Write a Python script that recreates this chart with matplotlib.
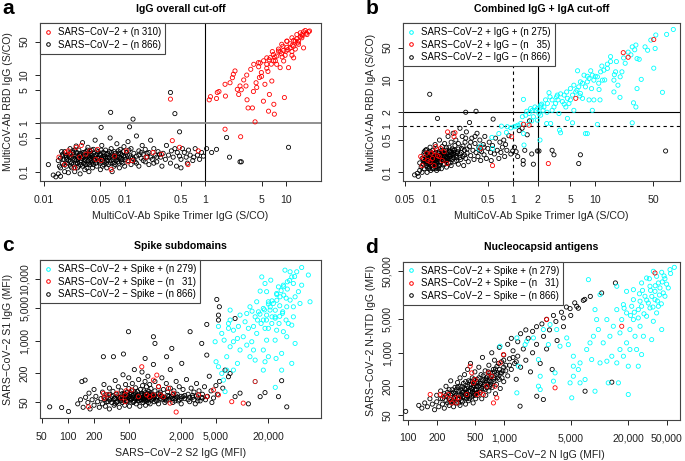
import numpy as np
import matplotlib
matplotlib.use("Agg")
import matplotlib.pyplot as plt
from matplotlib.lines import Line2D

plt.rcParams['font.family'] = ['Liberation Sans', 'DejaVu Sans']

RED = '#ff0000'
CYAN = '#00ffff'

# ---- panel a : IgG overall cut-off  (x = spike trimer IgG, y = RBD IgG, S/CO)
a_pos = [(1.12,3.09),(1.16,3.6),(1.38,3.3),(1.41,4.4),(1.48,4.6),(1.78,3.7),(1.76,6.5),(2.03,7.0),
         (2.17,8.9),(2.23,10.5),(2.34,12.3),(2.5,5.1),(2.6,4.0),(2.7,6.0),(3.0,8.0),(3.27,10.1),
         (3.3,3.1),(3.4,2.1),(3.67,13.3),(3.85,2.1),(3.96,4.6),(4.15,1.08),(4.27,7.0),(4.35,5.6),
         (4.57,18.3),(4.7,9.0),(4.97,11.4),(5.27,2.9),(5.5,6.5),(5.8,16.9),(6.1,1.8),(6.25,4.0),
         (6.4,23.2),(6.7,7.6),(7.0,27),(7.1,2.5),(7.2,1.56),(7.7,16.9),(8.1,31.8),(8.5,14.4),
         (8.9,44),(9.4,19.8),(9.6,3.45),(10.1,31.8),(10.3,51),(10.8,14.4),(11.3,37),(11.9,60),
         (12.5,23),(13.1,51),(13.7,70),(14.4,44),(15.1,76),(15.8,60),(16.6,37),(17.4,85),
         (18.3,70),(19.1,80),(19.7,83),(4.8,18),(5.3,20),(5.8,23),(7.0,20),(7.7,25),(8.5,31),
         (9.4,33),(10.3,38),(11.3,45),(12.5,53),(13.7,57),(15.1,63),(4.0,16.9),(4.6,15),(5.8,14),
         (6.6,17),(7.4,20),(9.0,24),(9.8,26),(11.9,31),(13.1,35),(14.4,51),(15.8,70),(16.6,80),
         (11.9,26),(8.1,35),(6.8,31),(10.3,51),(12.5,40),(6.0,12),(5.0,9.5),(3.2,6.0),(2.8,5.0),
         (6.2,21),(7.3,24),(8.8,28),(10.6,34),(12.0,42),(14.0,47),(16.0,66),(18.0,75),(9.2,40),
         (0.0188,0.25),(0.0216,0.23),(0.0276,0.2),(0.024,0.12),(0.037,0.27),(0.046,0.29),
         (0.051,0.17),(0.068,0.11),(0.075,0.21),(0.105,0.27),(0.11,0.16),(0.125,0.17),(0.185,0.2),
         (0.225,0.25),(0.286,0.23),(0.39,0.44),(0.48,0.32),(0.61,0.14),(0.82,0.27),(0.37,3.2),
         (1.76,0.76),(2.75,0.53),(0.029,0.35),(0.033,0.23),(0.0153,0.2),(0.044,0.18),(0.018,0.14),
         (0.02,0.27),(0.025,0.32)]
a_neg = [(0.0113,0.14),(0.013,0.085),(0.014,0.078),(0.015,0.09),(0.016,0.08),(0.015,0.17),(0.016,0.12),
         (0.017,0.21),(0.017,0.15),(0.018,0.1),(0.018,0.26),(0.019,0.18),(0.019,0.13),(0.02,0.22),
         (0.02,0.095),(0.021,0.16),(0.021,0.3),(0.022,0.12),(0.022,0.2),(0.023,0.25),(0.023,0.14),
         (0.024,0.18),(0.024,0.1),(0.025,0.34),(0.025,0.22),(0.026,0.15),(0.026,0.12),(0.027,0.28),
         (0.027,0.19),(0.028,0.09),(0.028,0.16),(0.029,0.23),(0.03,0.13),(0.03,0.4),(0.031,0.2),
         (0.032,0.17),(0.032,0.11),(0.033,0.26),(0.034,0.14),(0.035,0.21),(0.035,0.32),(0.036,0.1),
         (0.037,0.18),(0.038,0.24),(0.039,0.15),(0.04,0.12),(0.04,0.2),(0.041,0.29),(0.042,0.17),
         (0.043,0.45),(0.044,0.22),(0.045,0.13),(0.046,0.19),(0.047,0.26),(0.048,0.16),(0.05,0.11),
         (0.05,0.23),(0.052,0.35),(0.053,0.18),(0.055,0.14),(0.056,0.21),(0.058,0.28),(0.06,0.17),
         (0.06,0.12),(0.062,0.24),(0.064,0.19),(0.066,0.5),(0.067,0.15),(0.068,0.3),(0.07,0.1),
         (0.07,0.22),(0.072,0.18),(0.074,0.26),(0.076,0.14),(0.078,0.2),(0.08,0.38),(0.082,0.16),
         (0.084,0.24),(0.086,0.12),(0.088,0.29),(0.09,0.19),(0.092,0.22),(0.095,0.15),(0.098,0.33),
         (0.1,0.2),(0.1,0.13),(0.105,0.25),(0.11,0.17),(0.11,0.42),(0.115,0.22),(0.12,0.14),
         (0.12,0.3),(0.125,0.19),(0.13,0.24),(0.135,0.16),(0.14,0.55),(0.14,0.21),(0.15,0.27),
         (0.15,0.13),(0.16,0.19),(0.165,0.35),(0.17,0.23),(0.18,0.16),(0.18,0.29),(0.19,0.2),
         (0.2,0.25),(0.2,0.14),(0.21,0.45),(0.22,0.18),(0.23,0.3),(0.24,0.22),(0.25,0.16),
         (0.26,0.26),(0.28,0.2),(0.29,0.13),(0.3,0.24),(0.32,0.18),(0.33,0.35),(0.35,0.22),
         (0.37,0.15),(0.38,0.27),(0.4,0.2),(0.42,0.3),(0.44,0.13),(0.45,0.25),(0.48,0.21),
         (0.5,0.18),(0.5,0.12),(0.52,0.3),(0.55,0.25),(0.58,0.2),(0.6,0.15),(0.62,0.28),
         (0.65,0.22),(0.7,0.17),(0.72,0.2),(0.75,0.3),(0.8,0.22),(0.85,0.18),(0.9,0.25),(0.95,0.21),
         (0.016,0.19),(0.017,0.23),(0.018,0.14),(0.019,0.2),(0.02,0.17),(0.021,0.24),(0.022,0.15),
         (0.023,0.19),(0.024,0.28),(0.025,0.17),(0.026,0.2),(0.027,0.13),(0.028,0.24),(0.029,0.17),
         (0.03,0.21),(0.031,0.15),(0.032,0.25),(0.033,0.19),(0.034,0.12),(0.035,0.17),(0.036,0.23),
         (0.037,0.14),(0.038,0.19),(0.039,0.28),(0.04,0.16),(0.042,0.21),(0.044,0.15),(0.046,0.24),
         (0.048,0.19),(0.05,0.15),(0.052,0.2),(0.054,0.25),(0.056,0.16),(0.058,0.19),(0.06,0.23),
         (0.063,0.14),(0.066,0.2),(0.069,0.25),(0.072,0.15),(0.075,0.21),(0.078,0.17),(0.081,0.2),
         (0.085,0.15),(0.089,0.24),(0.093,0.18),(0.097,0.21),
         (0.0155,0.13),(0.0165,0.26),(0.0175,0.18),(0.0185,0.22),(0.0195,0.15),(0.0205,0.2),
         (0.0215,0.13),(0.0225,0.27),(0.0235,0.21),(0.0245,0.15),(0.0255,0.25),(0.0265,0.18),
         (0.0275,0.22),(0.0285,0.14),(0.0295,0.19),(0.0305,0.25),(0.0315,0.18),(0.0325,0.14),
         (0.0335,0.22),(0.0345,0.28),(0.0355,0.15),(0.0365,0.2),(0.0375,0.26),(0.0385,0.17),
         (0.0395,0.22),(0.041,0.14),(0.043,0.19),(0.045,0.27),(0.047,0.17),(0.049,0.22),
         (0.051,0.28),(0.053,0.13),(0.055,0.19),(0.057,0.24),(0.059,0.15),(0.061,0.2),(0.065,0.26),
         (0.068,0.17),(0.071,0.2),(0.074,0.13),(0.077,0.24),(0.08,0.18),(0.083,0.27),(0.087,0.2),
         (0.091,0.16),(0.096,0.26),(0.102,0.18),(0.108,0.22),(0.113,0.28),(0.118,0.2),(0.13,0.18),
         (0.14,0.15),(0.15,0.22),(0.16,0.25),(0.17,0.17),(0.19,0.24),(0.21,0.2),(0.23,0.15),
         (0.25,0.2),(0.27,0.23),
         (0.37,4.4),(0.067,1.7),(0.127,1.23),(0.115,0.85),(0.051,0.83),(0.42,1.6),(0.48,0.67),
         (10.8,0.32),(2.7,0.16),(2.8,0.16),(1.84,0.51),(2.0,0.2),(1.38,0.29),(1.04,0.3),(1.2,0.25)]

# ---- panel b : combined IgG + IgA cut-off (x = spike trimer IgA, y = RBD IgA)
b_pos = [(88,124),(73,97),(54,94),(47,73),(43,44),(53,48),(40,52),(31,57),(28,52),(27,35),(32,29),
         (34,28),(51,18),(65,5.4),(36,10.3),(32,6.5),(29,3.2),(31,2.6),(28,1.18),(23,23),(21,15),
         (20,11.7),(17.6,15),(16.8,9.9),(18.8,7.7),(19.9,4.2),(16.8,5.5),(15.3,32),(15.3,25),
         (14,17.8),(12.7,16.3),(11.6,15),(12.2,9.9),(10.6,11.7),(9.6,9.9),(9.2,12.7),(8.8,15.8),
         (8.4,10.8),(8.0,9.1),(7.6,7.1),(7.3,12.7),(6.6,9.1),(6.3,7.1),(6.1,15.8),(5.8,5.5),
         (5.5,7.7),(5.3,4.7),(5.0,3.7),(4.8,3.1),(4.6,4.0),(4.4,2.6),(4.2,4.7),(4.0,3.4),(9.6,3.7),
         (9.2,2.2),(8.4,3.7),(8.0,0.69),(7.6,0.69),(10.6,1.09),(11.1,6.2),(11.4,3.7),(6.6,5.1),
         (7.0,4.0),(5.5,2.2),(4.6,1.47),(5.3,1.18),(3.8,0.72),
         (0.39,0.32),(0.41,0.37),(0.56,0.57),(0.57,0.33),(0.68,0.69),(0.73,1.0),(0.84,0.73),
         (0.86,0.97),(0.95,0.92),(1.04,0.97),(1.1,1.0),(1.16,1.05),(1.25,1.14),(1.31,1.6),
         (1.35,3.8),(1.35,0.69),(1.37,0.39),(1.44,1.73),(1.48,2.1),(1.58,1.88),(1.65,2.4),
         (1.73,2.2),(1.78,1.6),(1.86,2.6),(1.9,2.2),(1.99,2.4),(2.08,1.88),(2.14,0.5),(2.18,2.85),
         (2.24,3.0),(2.33,2.2),(2.39,2.6),(2.5,3.7),(2.58,1.14),(2.63,3.1),(2.75,5.3),(2.83,4.3),
         (2.88,1.14),(3.0,3.7),(3.16,2.6),(3.3,3.1),(3.4,4.3),(3.47,4.7),(3.63,1.88),(3.7,0.82),
         (3.54,3.7),(3.0,2.2),(2.18,1.73),(1.99,1.35),(6.0,6.0),(7.0,8.5),(8.0,12),(10,12),(12,20),
         (14,22),(18,25),(22,30),(25,40),(30,45),(4.5,5.5),(5.0,6.5),(3.8,5.0),(4.2,3.0),(6.5,4.5),
         (2.6,2.0),(2.2,2.6),(1.7,1.3),(1.5,1.1),(9.0,6.5),(11,8.5),(13,10),(17,13)]
b_mid = [(0.077,0.22),(0.08,0.14),(0.091,0.26),(0.094,0.18),(0.1,0.17),(0.107,0.2),(0.112,0.28),
         (0.117,0.36),(0.123,0.23),(0.129,0.22),(0.134,0.33),(0.148,0.28),(0.16,0.155),(0.163,0.75),
         (0.195,0.59),(0.2,0.72),(0.41,0.33),(0.57,0.14),(0.97,0.59),(1.35,1.1),(1.58,1.05),
         (2.7,0.155),(5.8,4.0),(21.8,39),(25,31),(51,75),(0.112,0.14),(0.084,0.2),(0.104,0.26),
         (0.14,0.18)]
b_neg = [(0.065,0.088),(0.07,0.095),(0.072,0.082),(0.075,0.11),(0.075,0.16),(0.078,0.13),(0.08,0.2),
         (0.08,0.1),(0.082,0.15),(0.084,0.25),(0.085,0.12),(0.087,0.18),(0.088,0.3),(0.09,0.14),
         (0.09,0.22),(0.092,0.1),(0.094,0.17),(0.095,0.27),(0.097,0.13),(0.098,0.2),(0.1,0.16),
         (0.1,0.35),(0.102,0.11),(0.104,0.24),(0.105,0.18),(0.107,0.14),(0.108,0.3),(0.11,0.21),
         (0.11,0.12),(0.112,0.17),(0.114,0.26),(0.115,0.4),(0.117,0.15),(0.118,0.2),(0.12,0.11),
         (0.12,0.32),(0.122,0.23),(0.124,0.17),(0.126,0.14),(0.128,0.28),(0.13,0.2),(0.13,0.5),
         (0.133,0.16),(0.135,0.24),(0.137,0.12),(0.14,0.36),(0.14,0.19),(0.143,0.27),(0.145,0.15),
         (0.148,0.22),(0.15,0.42),(0.152,0.18),(0.155,0.3),(0.158,0.13),(0.16,0.25),(0.163,0.2),
         (0.165,0.6),(0.168,0.16),(0.17,0.35),(0.173,0.22),(0.176,0.28),(0.18,0.14),(0.18,0.45),
         (0.185,0.19),(0.19,0.3),(0.19,0.7),(0.195,0.24),(0.2,0.17),(0.2,0.38),(0.205,0.5),
         (0.21,0.21),(0.215,0.28),(0.22,0.15),(0.22,0.42),(0.23,0.25),(0.23,0.9),(0.235,0.19),
         (0.24,0.33),(0.245,0.6),(0.25,0.22),(0.255,0.14),(0.26,0.3),(0.265,0.45),(0.27,0.2),
         (0.275,0.75),(0.28,0.26),(0.29,0.17),(0.3,0.36),(0.3,1.2),(0.31,0.23),(0.32,0.55),
         (0.33,0.3),(0.34,0.19),(0.35,0.42),(0.36,0.27),(0.37,0.7),(0.38,0.22),(0.39,0.35),
         (0.4,0.5),(0.41,0.18),(0.42,0.28),(0.44,0.4),(0.45,0.24),(0.46,0.6),(0.48,0.2),(0.5,0.33),
         (0.52,0.45),(0.54,0.27),(0.55,0.18),(0.57,0.38),(0.6,0.25),(0.62,0.55),(0.65,0.3),
         (0.68,0.2),(0.7,0.45),(0.72,0.27),(0.75,0.35),(0.78,0.5),(0.8,0.22),(0.82,0.4),(0.85,0.3),
         (0.9,0.62),(0.95,0.25),(1.05,0.35),(1.1,0.28),(1.15,0.22),(1.2,0.8),(1.3,0.9),(1.4,0.3),
         (1.5,0.65),(1.6,1.3),(1.7,0.25),
         (0.085,0.17),(0.09,0.19),(0.095,0.15),(0.1,0.22),(0.105,0.15),(0.11,0.19),(0.115,0.23),
         (0.12,0.16),(0.125,0.21),(0.13,0.14),(0.135,0.2),(0.14,0.25),(0.145,0.18),(0.15,0.15),
         (0.155,0.22),(0.16,0.18),(0.165,0.27),(0.17,0.2),(0.175,0.16),(0.18,0.24),(0.185,0.32),
         (0.19,0.21),(0.2,0.27),(0.21,0.18),(0.22,0.32),(0.23,0.21),(0.24,0.27),(0.25,0.37),
         (0.26,0.24),(0.28,0.32),(0.095,0.24),(0.1,0.28),(0.108,0.19),(0.118,0.27),(0.128,0.23),
         (0.138,0.3),(0.148,0.26),(0.158,0.34),(0.092,0.13),(0.102,0.14),(0.112,0.15),(0.122,0.13),
         (0.083,0.19),(0.086,0.23),(0.089,0.16),(0.093,0.21),(0.096,0.18),(0.099,0.25),(0.103,0.2),
         (0.106,0.23),(0.109,0.16),(0.113,0.2),(0.116,0.18),(0.119,0.24),(0.123,0.19),(0.127,0.26),
         (0.131,0.17),(0.134,0.22),(0.139,0.28),(0.142,0.21),(0.146,0.24),(0.151,0.19),(0.156,0.26),
         (0.161,0.21),(0.167,0.23),(0.172,0.29),(0.178,0.2),(0.183,0.27),(0.19,0.25),(0.197,0.3),
         (0.205,0.23),(0.213,0.26),(0.085,0.28),(0.09,0.31),(0.097,0.12),(0.107,0.12),(0.117,0.12),
         (0.127,0.12),(0.31,0.45),(0.27,0.55),(0.35,0.6),(0.4,0.3),(0.45,0.35),
         (0.099,4.9),(0.27,2.0),(0.36,2.1),(0.123,1.47),(0.58,1.42),(1.0,0.29),(1.34,0.18),
         (1.34,0.15),(1.78,0.15),(1.99,0.29),(2.08,0.29),(3.0,0.3),(3.16,0.24),(6.3,0.155),
         (6.6,0.24),(71,0.29)]

# ---- panel c : spike subdomains (x = S2 IgG, y = S1 IgG, MFI)
c_pos = [(48200,35900),(42300,29100),(35500,29100),(37100,22600),(33000,17800),(38700,16400),
         (48200,15100),(57500,24800),(60100,6690),(44200,10970),(40500,8530),(35500,7260),
         (32500,5230),(38700,3200),(37100,2130),(40500,869),(37100,327),(33900,2310),(29700,1545),
         (29200,4090),(27200,8530),(26100,13900),(29700,15100),(24900,10040),(22800,6160),
         (20900,4450),(23900,3200),(21900,2310),(24900,1660),(23900,1020),(28400,533),(24500,416),
         (28400,235),(18300,16400),(19100,10970),(20000,6690),(17500,4820),(19100,3480),
         (17500,2730),(18300,1820),(19100,1020),(17500,629),(18300,354),(17500,235),(16100,11270),
         (14700,6690),(15400,4090),(14100,3200),(13500,2000),(14700,1420),(12900,944),(13500,629),
         (14100,384),(14100,134),(24000,101),(12300,5230),(11300,3770),(10800,2510),(11800,1820),
         (10300,1206),(11300,801),(9460,3480),(9060,2000),(8830,1109),(9460,629),(7940,1660),
         (7940,944),(7280,2730),(7280,738),(6970,1820),(6660,453),(6210,1020),(5840,1420),
         (7280,4450),(16800,22600),(21300,19300),(31000,31500),(6970,2310),(5350,2000),(5020,354),
         (5350,277),(5840,200),(6100,144),(4900,944),(6660,235),(6370,82),(7940,235),(8830,327),
         (12300,453),(20000,453),(32500,1206),(46100,6160),(38700,5230),(31900,2730),(22000,3200),
         (24000,4420),(21000,5200),(26500,2310),(19000,2730),(20000,1820),(16500,2310),
         (16000,3650),(25000,7200),(30000,9270),(33000,12480),(27000,3280),(15000,2730),
         (13000,4220),(22000,7000),(25000,9500),(28000,11500),(30000,14000),(20000,6000),
         (18000,4500),(27000,5500),(32000,8000),(35000,19000),(40000,23000),(24000,3000),
         (29000,3800)]
c_mid = [(173,38.8),(256,75.6),(261,59.2),(293,69.7),(365,75.6),(409,60.3),(455,69.7),(467,85.2),
         (455,50),(646,63.8),(706,277),(805,69.7),(864,63.8),(960,69.7),(1050,184),(1100,105),
         (1150,69.7),(1250,63.8),(1430,96),(1490,46.6),(1630,75.6),(1750,30.1),(3150,69.7),
         (3930,63.8),(4690,88.8),(5350,69.7),(7600,50),(10300,46.6),(14100,134),(542,88.8),
         (960,144)]
c_neg = [(130,45),(140,55),(150,38),(160,62),(170,48),(175,76),(180,35),(190,55),(200,42),(200,91),
         (210,65),(220,50),(230,38),(240,58),(250,80),(250,45),(260,116),(265,55),(270,40),(280,70),
         (290,50),(300,97),(300,35),(310,60),(320,48),(330,83),(340,42),(350,141),(350,58),(360,72),
         (370,50),(380,104),(390,38),(400,62),(410,85),(420,48),(430,187),(430,55),(440,72),(450,42),
         (460,116),(470,60),(480,80),(490,50),(500,95),(500,161),(510,40),(520,65),(530,55),(540,85),
         (550,122),(560,48),(570,72),(580,241),(590,58),(600,99),(610,45),(620,65),(630,83),(640,52),
         (650,148),(660,60),(670,40),(680,91),(690,72),(700,55),(710,214),(720,110),(730,48),
         (740,66),(750,85),(760,58),(770,135),(780,42),(790,72),(800,104),(810,55),(820,65),
         (830,174),(840,48),(850,83),(860,60),(870,116),(880,45),(890,76),(900,95),(920,55),
         (940,70),(960,310),(980,50),(1000,85),(1000,135),(1050,60),(1100,45),(1100,104),(1150,72),
         (1200,55),(1200,161),(1250,91),(1300,62),(1300,48),(1350,122),(1400,80),(1450,55),
         (1500,97),(1500,241),(1550,65),(1600,48),(1650,85),(1700,58),(1750,135),(1800,72),
         (1850,52),(1900,104),(2000,65),(2000,45),(2100,91),(2200,58),(2300,148),(2400,72),
         (2500,50),(2600,97),(2700,62),(2800,80),(2900,45),(3000,122),(3100,60),(3200,85),
         (3300,52),(3500,72),(3700,104),(3800,55),(4000,65),(4200,174),(4400,85),(4500,48),
         (4700,60),(5000,110),(5200,72),(5500,135),(6000,97),
         (300,55),(320,65),(340,58),(360,48),(380,62),(400,52),(420,74),(440,58),(460,66),(480,52),
         (500,62),(520,78),(540,58),(560,68),(580,52),(600,74),(620,58),(650,62),(680,55),(700,68),
         (720,60),(750,52),(780,78),(800,62),(830,55),(860,70),(900,62),(950,58),(1000,66),
         (1050,52),(1100,74),(1150,58),(1200,65),(1300,56),(1400,68),(1500,60),(1600,70),
         (1700,52),(1800,62),(2000,58),(2200,68),(2500,62),(2800,55),(3000,66),(3500,60),
         (260,62),(280,50),(300,72),(330,55),(350,45),(370,66),(390,58),(410,52),(430,64),(450,75),
         (470,52),(490,68),(510,58),(530,72),(550,62),(570,50),(590,80),(610,62),(640,70),(660,52),
         (690,62),(710,75),(740,56),(770,64),(790,52),(820,76),(850,58),(880,66),(920,70),(970,62),
         (1020,54),(1080,64),(1150,80),(1250,60),(1350,52),(1450,65),(1600,58),(1750,66),
         (1900,55),(2100,64),(2400,55),(2700,68),(3100,52),(3400,62),
         (62,38.8),(85,37.5),(102,31),(497,1545),(960,1206),(1000,869),(1560,681),(2530,1545),
         (3440,869),(3930,2205),(5120,7500),(5350,3480),(5350,2730),(5480,5230),(8300,2950),
         (256,453),(334,453),(435,517),(771,416),(1360,453),(2030,327),(3930,491),(145,134),
         (158,144),(28400,140),(32500,38.8),(18300,78),(26100,64),(16100,64),(11800,45),(9460,76),
         (8300,64),(6970,170),(6370,235),(7280,200)]

# ---- panel d : nucleocapsid antigens (x = N IgG, y = N-NTD IgG, MFI)
d_pos = [(60100,60500),(54200,54200),(44400,47700),(36300,50000),(30900,36300),(27400,28600),
         (22500,20700),(19100,19100),(15100,24400),(42600,22500),(48000,15100),(37800,12800),
         (33500,8610),(39300,6780),(44400,3050),(30900,5780),(27400,9330),(25300,5330),(22500,4920),
         (19100,6780),(17700,10100),(20700,3050),(23400,2210),(28600,2210),(34900,1880),
         (24300,1170),(19100,1610),(16300,2600),(13900,3570),(11900,4920),(15100,7940),(17000,4920),
         (12800,2210),(10900,1610),(9700,3050),(9310,4920),(8610,2210),(7940,1610),(7330,1170),
         (8260,722),(10100,615),(11900,667),(13400,847),(15100,615),(17700,847),(19900,525),
         (25300,525),(16300,1170),(20700,1170),(27400,918),(19900,135),(15700,236),(12300,236),
         (8950,158),(6250,236),(7050,277),(6250,615),(6000,447),(5320,324),(5320,847),(5320,525),
         (4920,236),(5120,115),(4540,2040),(4720,1480),(3860,1370),(3570,3050),(3040,3870),
         (2920,1480),(2590,3050),(2300,722),(2400,324),(2300,201),(2400,171),(3300,256),(3430,381),
         (2040,2040),(1670,1480),(1740,1740),(1370,2040),(1420,525),(1370,146),(916,1370),
         (7640,33500),(10100,16300),(8950,7940),(39300,39300),(41000,28600),(33500,24400),
         (37800,19100),(46100,17700),(52000,22500),(29700,15100),(26400,11900),(32200,10900),
         (41000,9330),(36300,4540),(26400,3570),(25300,7940),(21600,9330),(22500,12800),
         (35000,15000),(38000,25000),(45000,30000),(48000,35000),(42000,16000),(40000,12000),
         (34000,20000),(28000,20000),(31000,12500),(44000,10500),(50000,27000),(36000,9000),
         (29000,6500),(23000,7000),(18000,8500),(21000,6000),(47000,40000),(55000,45000),
         (33000,35000),(26000,17000)]
d_mid = [(171,135),(217,135),(235,124),(266,135),(276,106),(287,90),(311,115),(324,90),(337,115),
         (412,135),(446,525),(464,381),(483,236),(503,277),(524,135),(567,146),(614,135),
         (665,201),(693,381),(750,324),(781,90),(813,201),(846,115),(916,615),(993,918),
         (2800,4920),(3430,186),(17000,3570),(37800,46100)]
d_neg = [(95,60),(130,80),(140,70),(150,90),(160,75),(170,110),(180,85),(190,65),(200,130),(200,95),
         (210,75),(220,160),(220,110),(230,85),(240,140),(240,70),(250,200),(250,100),(260,120),
         (270,80),(270,170),(280,95),(280,260),(290,140),(300,110),(300,75),(310,190),(320,130),
         (320,90),(330,240),(340,105),(340,160),(350,80),(350,300),(360,130),(370,200),(370,95),
         (380,150),(390,115),(390,350),(400,250),(400,85),(410,180),(420,130),(420,450),(430,100),
         (440,220),(450,160),(450,600),(460,120),(470,300),(480,190),(480,90),(490,140),(500,400),
         (500,230),(510,110),(520,170),(530,280),(540,130),(550,500),(560,210),(570,150),(580,350),
         (590,110),(600,260),(600,800),(620,180),(640,420),(650,130),(660,300),(680,220),(700,550),
         (700,160),(720,380),(740,250),(750,1000),(760,190),(780,450),(800,300),(800,700),(820,140),
         (840,220),(850,520),(870,380),(900,280),(900,1300),(920,180),(950,650),(980,420),(1000,250),
         (1000,900),(1050,550),(1100,1500),(1100,330),(1150,750),(1200,450),(1200,2000),(1250,1100),
         (1300,600),(1350,280),(1400,1700),(1400,850),(1500,2500),(1500,500),(1600,1200),
         (1700,3000),(1700,700),(1800,2000),(1900,400),(2000,2800),(2000,1000),(2200,3500),
         (2200,1500),(2400,600),(2500,4000),(2600,2200),(2800,5000),(2800,1200),(3000,3000),
         (3200,450),(3300,6000),(3500,4500),(3600,1800),(4000,7000),(4200,3500),(4500,9000),
         (5000,6000),(5500,11000),(6000,8500),(7000,13000),(8000,15000),(10500,17700),
         (14600,28600),(6760,12400),(5770,9330),(4920,8340),(4190,5330),
         (250,130),(260,90),(280,130),(290,100),(300,150),(310,120),(320,170),(330,110),(340,130),
         (350,200),(360,100),(370,150),(380,120),(390,180),(400,140),(410,110),(420,200),(430,160),
         (440,130),(450,250),(460,180),(470,150),(480,130),(490,210),(500,170),(510,140),(520,250),
         (540,200),(560,160),(580,230),(600,200),(620,280),(640,170),(660,240),(680,320),(700,260),
         (720,200),(750,320),(780,280),(800,400),(850,350),(900,450),(950,380),(1000,500),
         (230,110),(260,150),(270,110),(290,170),(300,95),(310,140),(330,190),(340,90),(360,160),
         (370,120),(380,230),(400,170),(410,140),(430,260),(440,110),(460,220),(470,170),(490,280),
         (500,130),(520,200),(530,150),(550,300),(570,230),(590,180),(610,330),(630,220),(650,270),
         (670,190),(690,400),(710,300),(730,220),(760,380),(790,250),(820,460),(860,300),(880,600),
         (920,380),(960,300),(1000,700),(1050,420),(1150,550),(1250,800),(1350,650),
         (1480,77),(2210,124),(2590,106),(7050,158),(13400,244)]

# legend texts
leg_a = ['SARS\u2212CoV\u22122 + (n 310)', 'SARS\u2212CoV\u22122 \u2212 (n 866)']
leg_b = ['SARS\u2212CoV\u22122 + IgG + (n 275)', 'SARS\u2212CoV\u22122 + IgG \u2212 (n   35)',
         'SARS\u2212CoV\u22122 \u2212 IgG \u2212 (n 866)']
leg_cd = ['SARS\u2212CoV\u22122 + Spike + (n 279)', 'SARS\u2212CoV\u22122 + Spike \u2212 (n   31)',
          'SARS\u2212CoV\u22122 \u2212 Spike \u2212 (n 866)']


def pts(ax, data, col):
    arr = np.array(data, dtype=float)
    ax.scatter(arr[:, 0], arr[:, 1], s=9, facecolors='none', edgecolors=col,
               linewidths=0.6, zorder=3)


def setup(ax, xlim, ylim, xt, xl, yt, yl, title, letter, xlab, ylab, leg, cols):
    ax.set_xscale('log')
    ax.set_yscale('log')
    ax.set_xlim(*xlim)
    ax.set_ylim(*ylim)
    ax.minorticks_off()
    ax.set_xticks(xt)
    ax.set_xticklabels(xl)
    ax.set_yticks(yt)
    ax.set_yticklabels(yl, rotation=90, va='center')
    ax.tick_params(length=3.5, width=0.7, labelsize=7.6, colors='#222222')
    ax.tick_params(axis='x', pad=6.5)
    ax.tick_params(axis='y', pad=4)
    for s in ax.spines.values():
        s.set_linewidth(0.8)
        s.set_color('#444444')
    ax.set_title(title, fontsize=7.6, fontweight='bold', pad=8)
    ax.text(-0.135, 1.03, letter, transform=ax.transAxes, fontsize=15, fontweight='bold',
            va='bottom', ha='left')
    ax.set_xlabel(xlab, fontsize=7.6, labelpad=4.5, color='#222222')
    ax.set_ylabel(ylab, fontsize=7.6, labelpad=5, color='#222222')
    handles = [Line2D([], [], ls='none', marker='o', ms=2.6, mfc='none', mec=c, mew=0.7)
               for c in cols]
    lg = ax.legend(handles, leg, loc='upper left', bbox_to_anchor=(0, 1), borderaxespad=0,
                   fontsize=6.9, frameon=True, fancybox=False, framealpha=1,
                   handlelength=0.8, handletextpad=0.6, labelspacing=0.25, borderpad=0.45)
    lg.get_frame().set_edgecolor('#444444')
    lg.get_frame().set_linewidth(0.8)
    lg.set_zorder(5)


fig = plt.figure(figsize=(6.85, 4.61), dpi=100)
axa = fig.add_axes([0.0584, 0.6074, 0.410, 0.3427])
axb = fig.add_axes([0.5883, 0.6074, 0.4044, 0.3427])
axc = fig.add_axes([0.0584, 0.0933, 0.410, 0.3427])
axd = fig.add_axes([0.5883, 0.0900, 0.4044, 0.3427])

# a
pts(axa, a_neg, 'black')
pts(axa, a_pos, RED)
axa.axvline(1, color='black', lw=0.8, zorder=2)
axa.axhline(1, color='#888888', lw=1.3, zorder=2)
setup(axa, (0.0089, 27.2), (0.064, 121.6),
      [0.01, 0.05, 0.1, 0.5, 1, 5, 10], ['0.01', '0.05', '0.1', '0.5', '1', '5', '10'],
      [0.1, 0.5, 1, 5, 10, 50], ['0.1', '0.5', '1', '5', '10', '50'],
      'IgG overall cut-off', 'a', 'MultiCoV-Ab Spike Trimer IgG (S/CO)',
      'MultiCoV-Ab RBD IgG (S/CO)', leg_a, [RED, 'black'])

# b
pts(axb, b_neg, 'black')
pts(axb, b_pos, CYAN)
pts(axb, b_mid, RED)
axb.axvline(2, color='black', lw=0.8, zorder=2)
axb.axhline(2, color='black', lw=0.8, zorder=2)
axb.axvline(1, color='black', lw=0.8, ls=(0, (3, 3)), zorder=2)
axb.axhline(1, color='black', lw=0.8, ls=(0, (3, 3)), zorder=2)
setup(axb, (0.047, 106), (0.065, 171),
      [0.05, 0.1, 0.5, 1, 2, 5, 10, 50], ['0.05', '0.1', '0.5', '1', '2', '5', '10', '50'],
      [0.1, 0.5, 1, 2, 10, 50], ['0.1', '0.5', '1', '2', '10', '50'],
      'Combined IgG + IgA cut-off', 'b', 'MultiCoV-Ab Spike Trimer IgA (S/CO)',
      'MultiCoV-Ab RBD IgA (S/CO)', leg_b, [CYAN, RED, 'black'])

# c  (the top tick sits where the reference draws it, labelled as in the reference)
pts(axc, c_neg, 'black')
pts(axc, c_pos, CYAN)
pts(axc, c_mid, RED)
setup(axc, (48, 80000), (22.5, 51800),
      [50, 100, 200, 500, 2000, 5000, 20000],
      ['50', '100', '200', '500', '2,000', '5,000', '20,000'],
      [50, 200, 1000, 5000, 20000], ['50', '200', '1,000', '5,000', '10,000'],
      'Spike subdomains', 'c', 'SARS\u2212CoV\u22122 S2 IgG (MFI)',
      'SARS\u2212CoV\u22122 S1 IgG (MFI)', leg_cd, [CYAN, RED, 'black'])

# d
pts(axd, d_neg, 'black')
pts(axd, d_pos, CYAN)
pts(axd, d_mid, RED)
setup(axd, (89, 68900), (40.6, 80000),
      [100, 200, 500, 1000, 5000, 20000, 50000],
      ['100', '200', '500', '1,000', '5,000', '20,000', '50,000'],
      [50, 200, 1000, 5000, 50000], ['50', '200', '1,000', '5,000', '50,000'],
      'Nucleocapsid antigens', 'd', 'SARS\u2212CoV\u22122 N IgG (MFI)',
      'SARS\u2212CoV\u22122 N-NTD IgG (MFI)', leg_cd, [CYAN, RED, 'black'])

fig.savefig('out.png', dpi=100)
